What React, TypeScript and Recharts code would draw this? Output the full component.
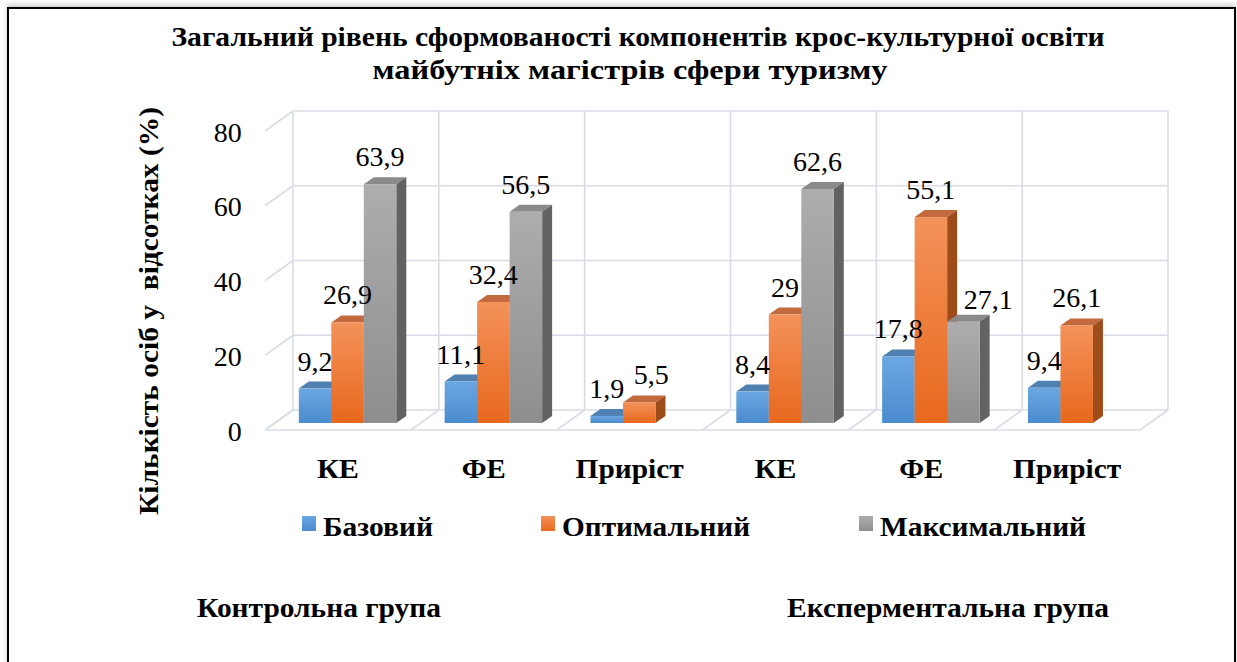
import React from 'react';
import { BarChart, Bar, XAxis, YAxis, CartesianGrid, LabelList, Legend } from 'recharts';

// ---------- data ----------
const categories = ['КЕ', 'ФЕ', 'Приріст', 'КЕ', 'ФЕ', 'Приріст'];
const baseValues: (number | null)[] = [9.2, 11.1, 1.9, 8.4, 17.8, 9.4];
const optimalValues: (number | null)[] = [26.9, 32.4, 5.5, 29, 55.1, 26.1];
const maxValues: (number | null)[] = [63.9, 56.5, null, 62.6, 27.1, null];
const seriesNames = ['Базовий', 'Оптимальний', 'Максимальний'];
const yTicks = [0, 20, 40, 60, 80];
const titleLines = [
  'Загальний рівень сформованості компонентів крос-культурної освіти',
  'майбутніх магістрів сфери туризму',
];
const yAxisTitle = 'Кількість осіб у  відсотках (%)';
const groupLabels = ['Контрольна група', 'Експерментальна група'];

const data = categories.map((name, i) => ({
  name,
  base: baseValues[i],
  opt: optimalValues[i],
  max: maxValues[i],
}));

const seriesArrays: Record<string, (number | null)[]> = {
  base: baseValues,
  opt: optimalValues,
  max: maxValues,
};

// ---------- layout ----------
const W = 1237;
const H = 662;
const PLOT_LEFT = 274.8;
const PLOT_RIGHT = 1149.8;
const PLOT_TOP = 124;
const PLOT_BOTTOM = 423;
const Y_AXIS_W = 60;
const X_AXIS_H = 30;
const MARGIN = {
  top: PLOT_TOP,
  left: PLOT_LEFT - Y_AXIS_W,
  right: W - PLOT_RIGHT,
  bottom: H - PLOT_BOTTOM - X_AXIS_H,
};
const BACK_DX = 18.2;
const BACK_DY = -13;
const FRONT_DX = -9.8;
const FRONT_DY = 7;
const BAR_DX = 10;
const BAR_DY = 7;
const GRID = '#d9dce6';
const FONT = '"Liberation Serif", "Times New Roman", "DejaVu Serif", serif';

// manual label nudges (series key -> category index -> [dx, dy]), as in the source chart
const labelNudge: Record<string, Record<number, [number, number]>> = {
  opt: { 2: [12, 0] },
  max: { 4: [25, 5] },
};

const palette = [
  { id: 'gBase', top: '#6ba7e1', bottom: '#4a8bcf', cap: '#4f80b2', side: '#3d6c9c' },
  { id: 'gOpt', top: '#f3925a', bottom: '#e8681d', cap: '#c26a3e', side: '#9e4c1a' },
  { id: 'gMax', top: '#adadad', bottom: '#8e8e8e', cap: '#8a8a8a', side: '#626262' },
];

// width of a numeric string in a Times-like face at 28px
const numWidth = (s: string) =>
  s.split('').reduce((acc, ch) => acc + (ch === ',' ? 7 : 14), 0);

const make3DShape = (k: number) => (props: any) => {
  const { x, y, width, height } = props;
  if (x == null || y == null || !height || height <= 0) return <g />;
  const c = palette[k];
  return (
    <g>
      <path
        d={`M${x},${y} L${x + BAR_DX},${y - BAR_DY} L${x + width + BAR_DX},${y - BAR_DY} L${x + width},${y} Z`}
        fill={c.cap}
      />
      <path
        d={`M${x + width},${y} L${x + width + BAR_DX},${y - BAR_DY} L${x + width + BAR_DX},${y + height - BAR_DY} L${x + width},${y + height} Z`}
        fill={c.side}
      />
      <rect x={x} y={y} width={width} height={height} fill={`url(#${c.id})`} />
    </g>
  );
};

const makeLabel = (key: string) => (p: any) => {
  const { x, y, width, value } = p;
  if (value == null || x == null) return null;
  const s = String(value).replace('.', ',');
  const catIdx = seriesArrays[key].indexOf(Number(value));
  const [ndx, ndy] = labelNudge[key]?.[catIdx] ?? [0, 0];
  return (
    <text
      x={Number(x) + Number(width) / 2 + ndx}
      y={Number(y) - 18 + ndy}
      textAnchor="middle"
      fontFamily={FONT}
      fontSize={27}
      fill="#000"
      textLength={numWidth(s)}
      lengthAdjust="spacingAndGlyphs"
    >
      {s}
    </text>
  );
};

const renderH = (p: any) => {
  const { x1, x2, y1, index } = p;
  const isFloor = Math.abs(y1 - PLOT_BOTTOM) < 1;
  return (
    <g key={`h-${index}`} stroke={GRID} strokeWidth={1.6} fill="none">
      <line x1={x1 + BACK_DX} y1={y1 + BACK_DY} x2={x2 + BACK_DX} y2={y1 + BACK_DY} />
      <line x1={x1 + FRONT_DX} y1={y1 + FRONT_DY} x2={x1 + BACK_DX} y2={y1 + BACK_DY} />
      {isFloor && (
        <line x1={x1 + FRONT_DX} y1={y1 + FRONT_DY} x2={x2 + FRONT_DX} y2={y1 + FRONT_DY} />
      )}
    </g>
  );
};

const renderV = (p: any) => {
  const { x1, y1, y2, index } = p;
  return (
    <g key={`v-${index}`} stroke={GRID} strokeWidth={1.6} fill="none">
      <line x1={x1 + BACK_DX} y1={y1 + BACK_DY} x2={x1 + BACK_DX} y2={y2 + BACK_DY} />
      <line x1={x1 + FRONT_DX} y1={y2 + FRONT_DY} x2={x1 + BACK_DX} y2={y2 + BACK_DY} />
    </g>
  );
};

const YTick = (p: any) => {
  const { x, y, payload } = p;
  const s = String(payload.value);
  return (
    <text
      x={x - 33}
      y={y + 17.5}
      textAnchor="end"
      fontFamily={FONT}
      fontSize={27}
      fill="#000"
      textLength={numWidth(s)}
      lengthAdjust="spacingAndGlyphs"
    >
      {s}
    </text>
  );
};

const xTickW: Record<string, number> = { 'КЕ': 42, 'ФЕ': 44, 'Приріст': 108 };

const XTick = (p: any) => {
  const { x, y, payload } = p;
  return (
    <text
      x={x + FRONT_DX}
      y={y + 55}
      textAnchor="middle"
      fontFamily={FONT}
      fontWeight="bold"
      fontSize={27}
      fill="#000"
      textLength={xTickW[payload.value]}
      lengthAdjust="spacingAndGlyphs"
    >
      {payload.value}
    </text>
  );
};

const legendX = [302, 541, 859];
const legendTextW = [110, 188, 206];

const LegendContent = () => (
  <svg width={W} height={40} style={{ display: 'block' }}>
    <defs>
      {palette.map((c) => (
        <linearGradient key={c.id} id={c.id + 'L'} x1="0" y1="0" x2="0" y2="1">
          <stop offset="0%" stopColor={c.top} />
          <stop offset="100%" stopColor={c.bottom} />
        </linearGradient>
      ))}
    </defs>
    {seriesNames.map((n, i) => (
      <g key={n}>
        <rect x={legendX[i]} y={8} width={14} height={15} fill={`url(#${palette[i].id}L)`} />
        <text
          x={legendX[i] + 21}
          y={28}
          fontFamily={FONT}
          fontWeight="bold"
          fontSize={28}
          fill="#000"
          textLength={legendTextW[i]}
          lengthAdjust="spacingAndGlyphs"
        >
          {n}
        </text>
      </g>
    ))}
  </svg>
);

export default function App() {
  return (
    <div style={{ position: 'relative', width: W, height: H, background: '#fff', overflow: 'hidden' }}>
      <style>{`body{margin:0;background:#fff;}`}</style>
      <div
        style={{
          position: 'absolute',
          left: 7,
          top: 7,
          width: 1225,
          height: 720,
          border: '2px solid #000',
          boxShadow: '0 -3px 5px rgba(0,0,0,0.18)',
          background: '#fff',
        }}
      />
      <div style={{ position: 'absolute', left: 0, top: 0 }}>
        <BarChart width={W} height={H} data={data} margin={MARGIN} barGap={0} barSize={32.5}>
          <defs>
            {palette.map((c) => (
              <linearGradient key={c.id} id={c.id} x1="0" y1="0" x2="0" y2="1">
                <stop offset="0%" stopColor={c.top} />
                <stop offset="100%" stopColor={c.bottom} />
              </linearGradient>
            ))}
          </defs>
          <CartesianGrid
            horizontal={renderH}
            vertical={renderV}
            verticalCoordinatesGenerator={({ offset }: any) =>
              Array.from(
                { length: categories.length + 1 },
                (_, i) => offset.left + (i * offset.width) / categories.length
              )
            }
          />
          <XAxis
            dataKey="name"
            height={X_AXIS_H}
            axisLine={false}
            tickLine={false}
            tickSize={0}
            tickMargin={0}
            interval={0}
            tick={<XTick />}
          />
          <YAxis
            width={Y_AXIS_W}
            domain={[0, 80]}
            ticks={yTicks}
            axisLine={false}
            tickLine={false}
            tickSize={0}
            tickMargin={0}
            tick={<YTick />}
          />
          <Legend
            verticalAlign="middle"
            align="center"
            layout="horizontal"
            content={<LegendContent />}
            wrapperStyle={{ top: 508, left: 0, width: W }}
          />
          <Bar dataKey="base" name={seriesNames[0]} shape={make3DShape(0)} isAnimationActive={false}>
            <LabelList dataKey="base" content={makeLabel('base')} />
          </Bar>
          <Bar dataKey="opt" name={seriesNames[1]} shape={make3DShape(1)} isAnimationActive={false}>
            <LabelList dataKey="opt" content={makeLabel('opt')} />
          </Bar>
          <Bar dataKey="max" name={seriesNames[2]} shape={make3DShape(2)} isAnimationActive={false}>
            <LabelList dataKey="max" content={makeLabel('max')} />
          </Bar>
        </BarChart>
      </div>
      <svg
        width={W}
        height={H}
        style={{ position: 'absolute', left: 0, top: 0, pointerEvents: 'none' }}
      >
        <text x={638} y={46} textAnchor="middle" fontFamily={FONT} fontWeight="bold" fontSize={27} fill="#000"
          textLength={933} lengthAdjust="spacingAndGlyphs">
          {titleLines[0]}
        </text>
        <text x={630} y={79} textAnchor="middle" fontFamily={FONT} fontWeight="bold" fontSize={27} fill="#000"
          textLength={515} lengthAdjust="spacingAndGlyphs">
          {titleLines[1]}
        </text>
        <text
          transform="translate(158,311) rotate(-90)"
          textAnchor="middle"
          fontFamily={FONT}
          fontWeight="bold"
          fontSize={27}
          fill="#000"
          style={{ whiteSpace: 'pre' }}
          textLength={408}
          lengthAdjust="spacingAndGlyphs"
        >
          {yAxisTitle}
        </text>
        <text x={197} y={617} fontFamily={FONT} fontWeight="bold" fontSize={27} fill="#000"
          textLength={244} lengthAdjust="spacingAndGlyphs">
          {groupLabels[0]}
        </text>
        <text x={787} y={617} fontFamily={FONT} fontWeight="bold" fontSize={27} fill="#000"
          textLength={322} lengthAdjust="spacingAndGlyphs">
          {groupLabels[1]}
        </text>
      </svg>
    </div>
  );
}
